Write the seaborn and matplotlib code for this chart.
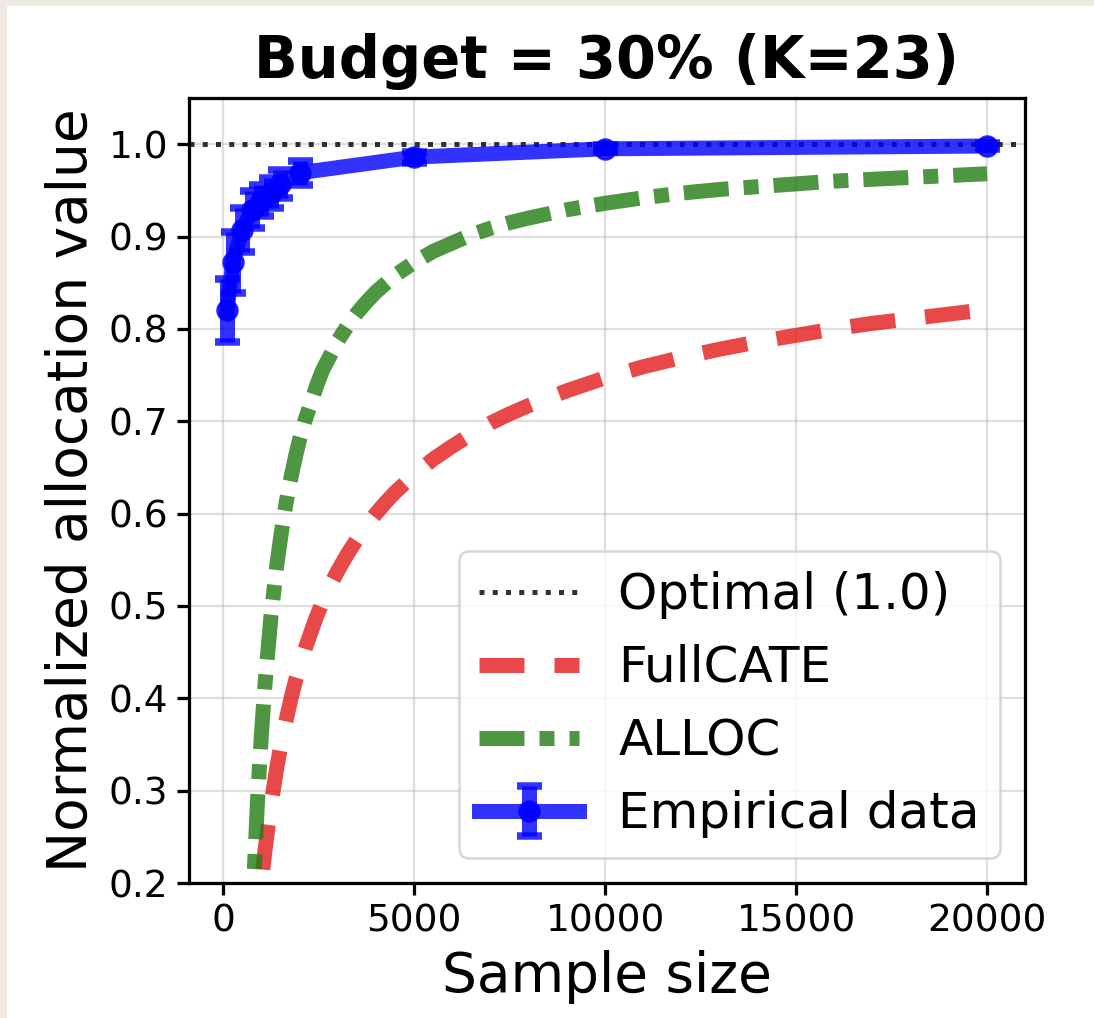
import numpy as np
import pandas as pd
import matplotlib
matplotlib.use("Agg")
import matplotlib.pyplot as plt
from matplotlib.patches import Rectangle
import seaborn as sns

# ---------------- data ----------------
emp_n = [100, 250, 500, 750, 1000, 1250, 1500, 2000, 5000, 10000, 20000]
emp_val = [0.820, 0.872, 0.907, 0.929, 0.939, 0.947, 0.957, 0.969, 0.986, 0.995, 0.998]
emp_err = [0.034, 0.033, 0.024, 0.020, 0.017, 0.016, 0.015, 0.013, 0.006, 0.004, 0.003]

theory_n = [600, 700, 800, 900, 950, 1000, 1050, 1100, 1250, 1400, 1500, 1600, 1700,
            1800, 1900, 2000, 2150, 2300, 2450, 2600, 2800, 3000, 3250, 3500, 3750,
            4000, 4250, 4500, 5000, 5500, 6000, 6500, 7000, 7500, 8000, 9000, 10000,
            11000, 12000, 13000, 14000, 15000, 16000, 17000, 18000, 19000, 20000]
fullcate_val = [-0.03, 0.04, 0.105, 0.157, 0.179, 0.200, 0.219, 0.237, 0.284, 0.324,
                0.347, 0.367, 0.386, 0.404, 0.420, 0.434, 0.454, 0.472, 0.489, 0.504,
                0.522, 0.538, 0.556, 0.572, 0.587, 0.600, 0.612, 0.623, 0.642, 0.659,
                0.673, 0.686, 0.698, 0.708, 0.717, 0.733, 0.747, 0.759, 0.769, 0.778,
                0.786, 0.793, 0.800, 0.806, 0.811, 0.816, 0.821]
alloc_val = [-0.07, 0.09, 0.200, 0.290, 0.326, 0.360, 0.390, 0.418, 0.488, 0.543,
             0.573, 0.600, 0.624, 0.644, 0.663, 0.680, 0.702, 0.720, 0.739, 0.755,
             0.771, 0.787, 0.803, 0.817, 0.829, 0.840, 0.849, 0.858, 0.872, 0.884,
             0.893, 0.902, 0.909, 0.915, 0.920, 0.929, 0.936, 0.942, 0.947, 0.951,
             0.954, 0.957, 0.960, 0.962, 0.964, 0.966, 0.968]

optimal_value = 1.0
title_text = "Budget = 30% (K=23)"
x_label = "Sample size"
y_label = "Normalized allocation value"
y_ticks = [0.2, 0.3, 0.4, 0.5, 0.6, 0.7, 0.8, 0.9, 1.0]
x_ticks = [0, 5000, 10000, 15000, 20000]

theory_df = pd.DataFrame({"n": theory_n, "FullCATE": fullcate_val, "ALLOC": alloc_val})

# ---------------- figure ----------------
sns.set_style("white")
plt.rcParams.update({
    "font.family": ["DejaVu Sans"],
    "text.color": "black",
    "axes.labelcolor": "black",
    "xtick.color": "black",
    "ytick.color": "black",
    "lines.solid_capstyle": "projecting",
    "lines.dash_capstyle": "butt",
})

DPI = 180
fig = plt.figure(figsize=(1094 / DPI, 1018 / DPI), dpi=DPI)
ax = fig.add_axes([189 / 1094, 1 - 883 / 1018, (1025 - 189) / 1094, (883 - 98) / 1018])

# beige crop border seen in the reference (top and left)
fig.patches.append(Rectangle((0, 1 - 6 / 1018), 1, 6 / 1018, transform=fig.transFigure,
                             facecolor="#efebe4", edgecolor="none", zorder=10))
fig.patches.append(Rectangle((0, 0), 7 / 1094, 1, transform=fig.transFigure,
                             facecolor="#efebe4", edgecolor="none", zorder=10))

opt = ax.axhline(optimal_value, color="black", linestyle=":", linewidth=2, alpha=0.8,
                 label="Optimal (1.0)", zorder=2)

sns.lineplot(data=theory_df, x="n", y="FullCATE", ax=ax, color="#e41a1c", alpha=0.8,
             linewidth=6, linestyle=(0, (3, 2)), label="FullCATE", legend=False,
             zorder=3)
sns.lineplot(data=theory_df, x="n", y="ALLOC", ax=ax, color="#237c14", alpha=0.8,
             linewidth=6, linestyle=(0, (3, 1, 1, 1)), label="ALLOC",
             legend=False, zorder=3)
for ln in ax.lines[1:3]:
    ln.set_dash_capstyle("butt")

eb = ax.errorbar(emp_n, emp_val, yerr=emp_err, fmt="-o", color="blue", alpha=0.8,
                 linewidth=6, markersize=8, capsize=5, capthick=3, elinewidth=6,
                 label="Empirical data", zorder=4)
eb[0].set_solid_capstyle("projecting")

ax.set_ylim(0.2, 1.05)
ax.set_xlim(-895, 20995)
ax.set_yticks(y_ticks)
ax.set_xticks(x_ticks)
ax.grid(True, color="#b0b0b0", alpha=0.4, linewidth=0.9)
ax.set_axisbelow(True)

for sp in ax.spines.values():
    sp.set_visible(True)
    sp.set_color("black")
    sp.set_linewidth(1.3)
ax.tick_params(axis="both", which="major", labelsize=15, length=4.8, width=1.3,
               color="black", labelcolor="black", bottom=True, left=True, direction="out")

ax.set_xlabel(x_label, fontsize=22, color="black")
ax.set_ylabel(y_label, fontsize=22, color="black")
ax.set_title(title_text, fontsize=23, fontweight="bold", pad=8, color="black")

handles = [opt, ax.lines[1], ax.lines[2], eb]
labels = ["Optimal (1.0)", "FullCATE", "ALLOC", "Empirical data"]
leg = ax.legend(handles, labels, loc="lower right", fontsize=20, framealpha=0.8)
for t in leg.get_texts():
    t.set_color("black")

fig.savefig("out.png", dpi=DPI)
